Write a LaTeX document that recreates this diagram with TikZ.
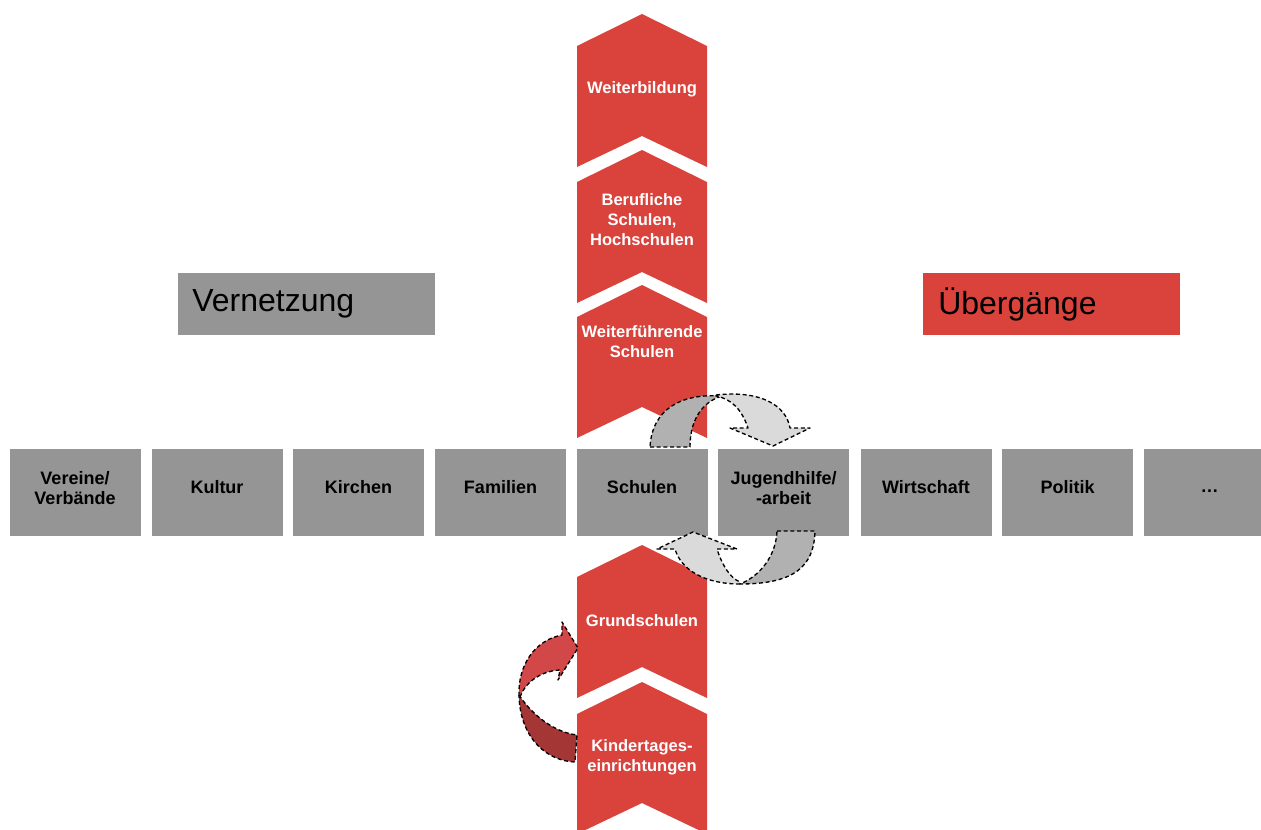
\documentclass[tikz,border=0pt]{standalone}
\usepackage{fontspec}
\setmainfont{Liberation Sans}
\definecolor{chevred}{RGB}{218,66,60}
\definecolor{boxgray}{RGB}{149,149,149}
\definecolor{arrowlight}{RGB}{218,218,218}
\definecolor{arrowdark}{RGB}{177,177,177}
\definecolor{arrowred}{RGB}{210,72,72}
\definecolor{arrowreddark}{RGB}{164,54,54}
% one stage of the vertical chevron column: top apex y, bottom edge y
\newcommand\stagechevron[2]{%
  \fill[chevred] (577,#1+32) -- (642,#1) -- (707,#1+32) -- (707,#2)
    -- (642,#2-31) -- (577,#2) -- cycle;}
\begin{document}
\begin{tikzpicture}[x=0.75pt,y=-0.75pt,
  fieldbox/.style={fill=boxgray,draw=none,inner sep=0pt,
    minimum width=98.25pt,minimum height=65.25pt},
  fieldtext/.style={inner sep=0pt,align=center,text=black,
    font=\bfseries\fontsize{13.5}{15.5}\selectfont},
  stagetext/.style={inner sep=0pt,align=center,text=white,
    font=\bfseries\fontsize{12.4}{15}\selectfont},
  titlebox/.style={draw=none,inner sep=0pt,inner xsep=10.5pt,anchor=north west,
    minimum width=192.75pt,minimum height=46.5pt,text width=171.75pt,
    align=left,font=\fontsize{24}{28}\selectfont},
  flow/.style={draw=black,line width=1pt,dash pattern=on 3pt off 2pt,
    line join=round}]
\useasboundingbox (0,0) rectangle (1261,829);
\clip (0,0) rectangle (1261,829);

% vertical column of stages
\stagechevron{14}{167}
\stagechevron{150}{303}
\stagechevron{285}{438}
\stagechevron{545}{698}
\stagechevron{682}{834}
\node[stagetext] (weiter) at (642,89) {Weiterbildung};
\node[stagetext] (beruf) at (642,220) {Berufliche\\Schulen,\\Hochschulen};
\node[stagetext] (wfs) at (642,342) {Weiterführende\\Schulen};
\node[stagetext] (grund) at (642,621) {Grundschulen};
\node[stagetext] (kita) at (642,757.5) {Kindertages-\\einrichtungen};

% horizontal row of partners
\node[fieldbox] (f1) at (75,492.5) {};
\node[fieldbox] (f2) at (217,492.5) {};
\node[fieldbox] (f3) at (358.5,492.5) {};
\node[fieldbox] (f4) at (500.5,492.5) {};
\node[fieldbox] (f5) at (642,492.5) {};
\node[fieldbox] (f6) at (783.5,492.5) {};
\node[fieldbox] (f7) at (926,492.5) {};
\node[fieldbox] (f8) at (1067.5,492.5) {};
\node[fieldbox] (f9) at (1209.5,492.5) {};
\node[fieldtext] (f1t) at (75,488) {Vereine/\\Verbände};
\node[fieldtext] (f2t) at (217,487) {Kultur};
\node[fieldtext] (f3t) at (358.5,487) {Kirchen};
\node[fieldtext] (f4t) at (500.5,487) {Familien};
\node[fieldtext] (f5t) at (642,487) {Schulen};
\node[fieldtext] (f6t) at (783.5,488) {Jugendhilfe/\\-arbeit};
\node[fieldtext] (f7t) at (926,487) {Wirtschaft};
\node[fieldtext] (f8t) at (1067.5,487) {Politik};
\node[fieldtext] (f9t) at (1209.5,491) {…};

% headings
\node[titlebox,fill=boxgray] (vernetzung) at (178,273) {Vernetzung};
\node[titlebox,fill=chevred,inner xsep=11.25pt,text width=170.25pt] (uebergaenge) at (923,273) {Übergänge};

% exchange arrow between Schulen and Jugendhilfe (upper arch)
\path[flow,fill=arrowdark] (650,447) -- (690,447)
  .. controls (690,420) and (702,402) .. (722,396)
  .. controls (680,393) and (652,410) .. (650,447) -- cycle;
\path[flow,fill=arrowlight] (716,395)
  .. controls (760,390) and (786,405) .. (790,428)
  -- (810,428) -- (773,446) -- (730,428) -- (748,428)
  .. controls (742,410) and (732,399) .. (716,396) -- cycle;

% exchange arrow back (lower arch)
\path[flow,fill=arrowdark] (777,531) -- (815,531)
  .. controls (814,566) and (795,584) .. (740,584)
  .. controls (760,576) and (776,556) .. (777,531) -- cycle;
\path[flow,fill=arrowlight] (740,584)
  .. controls (705,584) and (681,570) .. (675,549)
  -- (657,549) -- (693,532) -- (737,549) -- (717,549)
  .. controls (722,565) and (730,578) .. (740,582) -- cycle;

% transition arrow from Kindertageseinrichtungen to Grundschulen
\path[flow,fill=arrowreddark] (519,695)
  .. controls (530,712) and (552,732) .. (577,735)
  -- (575,762)
  .. controls (548,761) and (521,740) .. (519,697) -- cycle;
\path[flow,fill=arrowred] (520,697)
  .. controls (525,683) and (540,671) .. (560,670)
  -- (558,680) -- (578,648) -- (562,622) -- (562,635)
  .. controls (535,640) and (518,665) .. (519,695) -- cycle;
\end{tikzpicture}
\end{document}
